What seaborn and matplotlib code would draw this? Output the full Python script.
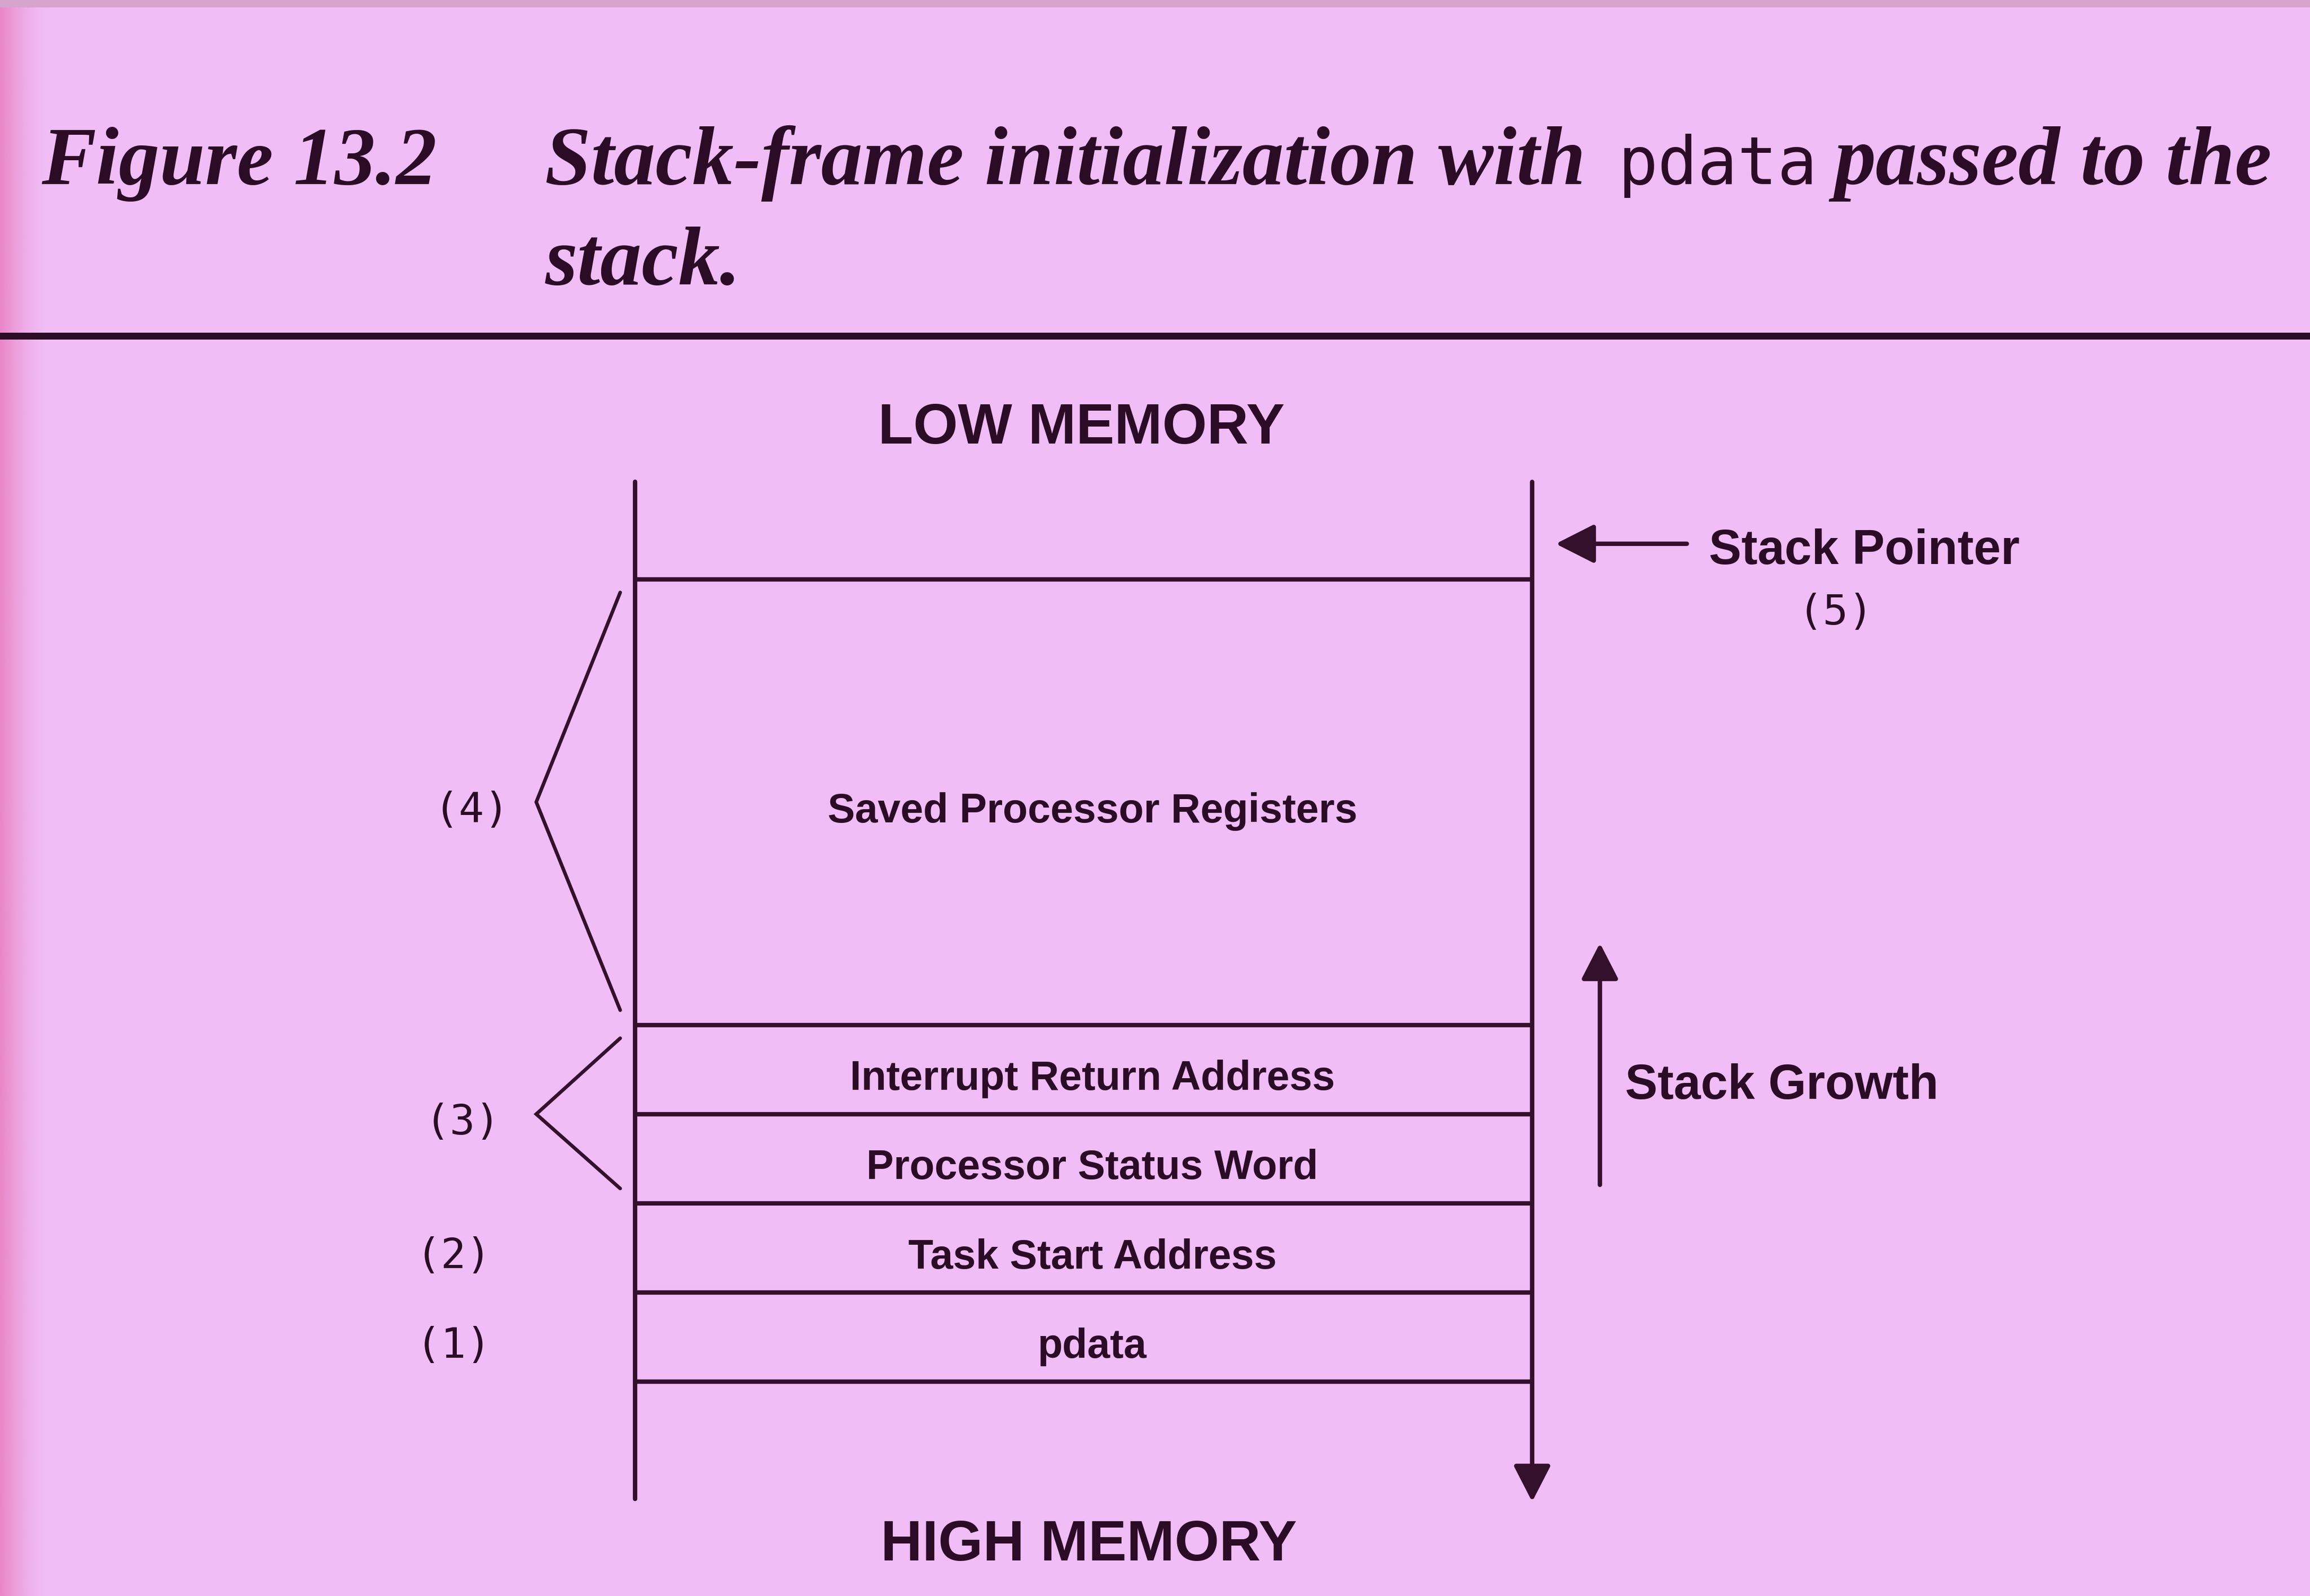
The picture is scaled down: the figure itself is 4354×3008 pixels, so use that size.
import numpy as np
import pandas as pd
import matplotlib
matplotlib.use("Agg")
import matplotlib.pyplot as plt
import seaborn as sns

# stack frame contents, top (low memory) to bottom (high memory)
stack_labels = ["Saved Processor Registers", "Interrupt Return Address",
                "Processor Status Word", "Task Start Address", "pdata"]
stack_slots = [5, 1, 1, 1, 1]

# numbered groups on the left side of the frame
group_tags = ["(4)", "(3)", "(2)", "(1)"]
group_members = [[0], [1, 2], [3], [4]]
group_bracket = [True, True, False, False]

title_num = "Figure 13.2"
title_parts = ["Stack-frame initialization with", "pdata", "passed to the"]
title_line2 = "stack."

bg = "#f0bdf6"
ink = "#2b0b26"
line_c = "#35102d"

sns.set_theme(style="white", rc={"figure.facecolor": bg, "axes.facecolor": bg})
plt.rcParams["font.family"] = ["Liberation Sans", "DejaVu Sans"]

# canvas in reference units (1568 x 1083)
W, H = 1568, 1083
fig = plt.figure(figsize=(4354 / 300, 3008 / 300), dpi=300)
ax = fig.add_axes([0, 0, 1, 1])
ax.set_xlim(0, W)
ax.set_ylim(H, 0)
ax.axis("off")

# scanned page look: pinker left edge and a darker strip at the top
edge = np.zeros((1, 60, 4))
edge[..., :3] = matplotlib.colors.to_rgb("#ea86c6")
edge[..., 3] = np.linspace(1, 0, 60) ** 1.5
ax.imshow(edge, extent=[0, 32, H, 0], aspect="auto", zorder=0)
ax.axhspan(0, 5, color="#d6a4cc", lw=0, zorder=0)


def cap_text(x, y, s, size, **kw):
    # place text so its capitals are centred on y
    ax.text(x, y + 0.537 * size, s, size=size, va="baseline", color=ink, **kw)


# title
serif = dict(family="Liberation Serif", weight="bold", style="italic")
ax.text(28, 125, title_num, size=37, va="baseline", color=ink, **serif)
ax.text(370, 125, title_parts[0], size=37.5, va="baseline", color=ink, **serif)
ax.text(1098, 125, title_parts[1], size=30, va="baseline", color=ink,
        family="DejaVu Sans Mono")
ax.text(1245, 125, title_parts[2], size=37.5, va="baseline", color=ink, **serif)
ax.text(370, 193, title_line2, size=37.5, va="baseline", color=ink, **serif)
ax.plot([-5, W + 5], [228, 228], color=ink, lw=3.1, solid_capstyle="butt")

# frame geometry
x_left, x_right = 431, 1040
y_top, y_bot = 327, 1018
stack_top, slot_h = 393, 60.5
bounds = stack_top + slot_h * np.concatenate([[0], np.cumsum(stack_slots)])
lw = 2.0

ax.plot([x_left, x_left], [y_top, y_bot - 1], color=line_c, lw=lw)
ax.annotate("", xy=(x_right, y_bot + 1), xytext=(x_right, y_top),
            arrowprops=dict(arrowstyle="-|>,head_length=0.7,head_width=0.36",
                            mutation_scale=20, color=line_c, lw=lw,
                            shrinkA=0, shrinkB=0))
ax.hlines(bounds, x_left, x_right, color=line_c, lw=lw)

xc = (x_left + x_right) / 2 + 6
for i, lab in enumerate(stack_labels):
    yc = (bounds[i] + bounds[i + 1]) / 2 + 4
    cap_text(xc, yc, lab, 18.5, ha="center", weight="bold")

# brackets and group numbers
tag_x = [320, 314, 308, 308]
for tag, members, br, tx in zip(group_tags, group_members, group_bracket, tag_x):
    top = bounds[members[0]]
    bot = bounds[members[-1] + 1]
    mid = (top + bot) / 2
    if br:
        ax.plot([421, 364, 421], [top + 9, mid, bot - 10], color=line_c,
                lw=1.6, solid_joinstyle="miter")
    ax.text(tx, mid + 6, tag, size=19, ha="center", va="center", color=ink,
            family="DejaVu Sans Mono")

# memory ends
cap_text(734, 287, "LOW MEMORY", 26, ha="center", weight="bold")
cap_text(739, 1045, "HIGH MEMORY", 26, ha="center", weight="bold")

# stack pointer
ax.annotate("", xy=(1056, 369), xytext=(1145, 369),
            arrowprops=dict(arrowstyle="-|>,head_length=0.75,head_width=0.38",
                            mutation_scale=20, color=line_c, lw=lw,
                            shrinkA=0, shrinkB=0))
cap_text(1160, 371, "Stack Pointer", 22, ha="left", weight="bold")
ax.text(1246, 416, "(5)", size=19, ha="center", va="center", color=ink,
        family="DejaVu Sans Mono")

# stack growth
ax.annotate("", xy=(1086, 640), xytext=(1086, 804),
            arrowprops=dict(arrowstyle="-|>,head_length=0.7,head_width=0.36",
                            mutation_scale=20, color=line_c, lw=lw,
                            shrinkA=0, shrinkB=0))
cap_text(1103, 734, "Stack Growth", 22, ha="left", weight="bold")

fig.savefig("out.png", dpi=300, facecolor=bg)
